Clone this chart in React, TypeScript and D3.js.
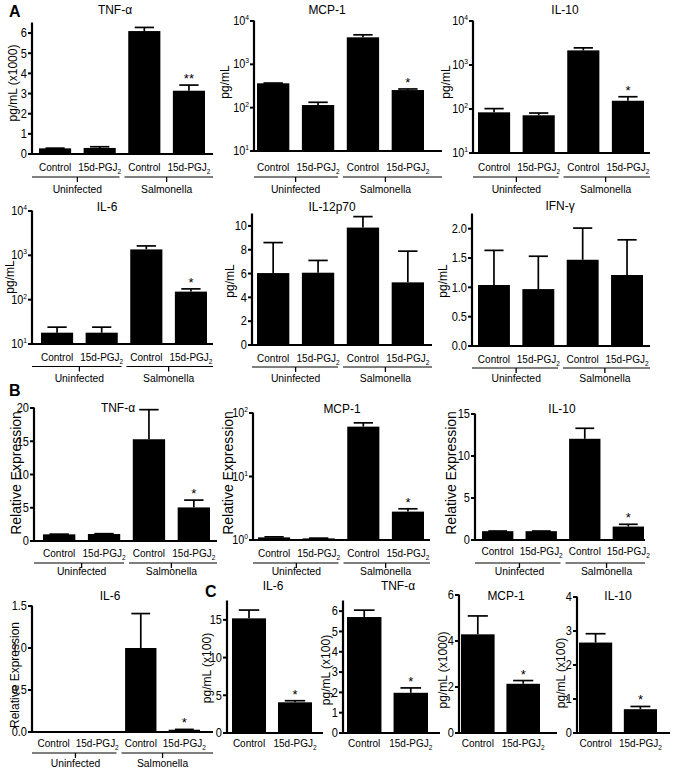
import React from 'react';
import * as d3 from 'd3';

const FONT = '"Liberation Sans", Arial, Helvetica, sans-serif';

// ---------- categories ----------
const categories4 = ['Control', '15d-PGJ2', 'Control', '15d-PGJ2'];
const categories2 = ['Control', '15d-PGJ2'];
const infectionGroups = ['Uninfected', 'Salmonella'];

// ---------- Panel A (cytokine protein, pg/mL) ----------
const aTnfMean = [0.28, 0.3, 6.1, 3.14];
const aTnfSem = [0.01, 0.06, 0.18, 0.28];
const aMcpMean = [365, 115, 4200, 255];
const aMcpSem = [5, 18, 600, 15];
const aIl10Mean = [84, 72, 2150, 154];
const aIl10Sem = [18, 9, 300, 36];
const aIl6Mean = [18, 18, 1360, 152];
const aIl6Sem = [6, 6, 270, 23];
const aIl12Mean = [6.04, 6.07, 9.86, 5.26];
const aIl12Sem = [2.56, 1.03, 0.92, 2.62];
const aIfnMean = [1.04, 0.97, 1.47, 1.21];
const aIfnSem = [0.59, 0.56, 0.54, 0.6];

// ---------- Panel B (relative expression) ----------
const bTnfMean = [1.0, 1.05, 15.3, 5.05];
const bTnfSem = [0.03, 0.05, 4.45, 1.1];
const bMcpMean = [1.1, 1.06, 61, 2.8];
const bMcpSem = [0.02, 0.01, 9, 0.3];
const bIl10Mean = [1.05, 1.05, 12.05, 1.6];
const bIl10Sem = [0.02, 0.02, 1.25, 0.27];
const bIl6Mean = [0.001, 0.001, 1.0, 0.027];
const bIl6Sem = [0, 0, 0.41, 0.004];

// ---------- Panel C ----------
const cIl6Mean = [15.2, 4.07];
const cIl6Sem = [1.1, 0.21];
const cTnfMean = [5.71, 1.98];
const cTnfSem = [0.34, 0.24];
const cMcpMean = [4.29, 2.14];
const cMcpSem = [0.8, 0.14];
const cIl10Mean = [2.66, 0.7];
const cIl10Sem = [0.26, 0.08];

// ---------- significance ----------
const starsA1 = ['', '', '', '**'];
const starsA = ['', '', '', '*'];
const starsNone = ['', '', '', ''];
const starsB = ['', '', '', '*'];
const starsC = ['', '*'];

// ---------- tick values ----------
const ticksTnfA = [0, 1, 2, 3, 4, 5, 6];
const ticksLog4 = [10, 100, 1000, 10000];
const ticksIl12 = [0, 2, 4, 6, 8, 10];
const ticksIfn = [0, 0.5, 1.0, 1.5, 2.0];
const ticksBTnf = [0, 5, 10, 15, 20];
const ticksLog2 = [1, 10, 100];
const ticksBIl10 = [0, 5, 10, 15];
const ticksBIl6 = [0, 0.5, 1.0, 1.5];
const ticksCIl6 = [0, 5, 10, 15];
const ticksCTnf = [0, 1, 2, 3, 4, 5, 6];
const ticksCMcp = [0, 2, 4, 6];
const ticksCIl10 = [0, 1, 2, 3, 4];

function T({ x, y, anchor = 'middle', size = 11, sx = 0.88, rotate = 0, weight = 'normal', children }: any) {
  const tf = `translate(${x},${y})${rotate ? ` rotate(${rotate})` : ''} scale(${sx},1)`;
  return (
    <text transform={tf} textAnchor={anchor} fontSize={size} fontFamily={FONT} fontWeight={weight} fill="#000">
      {children}
    </text>
  );
}

function CatText({ text }: { text: string }) {
  if (text.endsWith('PGJ2')) {
    return (
      <>
        {text.slice(0, -1)}
        <tspan fontSize={7.5} dy={2.5}>2</tspan>
      </>
    );
  }
  return <>{text}</>;
}

function Panel(p: any) {
  const y = p.log
    ? d3.scaleLog().domain(p.domain).range([p.yBase, p.yTop]).clamp(true)
    : d3.scaleLinear().domain(p.domain).range([p.yBase, p.yTop]).clamp(true);
  const n = p.means.length;
  const x = d3
    .scaleBand<number>()
    .domain(d3.range(n))
    .range([p.bs, p.be])
    .paddingInner(p.pad ?? 0.28);
  const bw = x.bandwidth();
  const fmt = p.fmt ?? ((v: number) => String(v));
  const labOff = p.labOff ?? 17;
  const lineOff = p.lineOff ?? 23;
  const grpOff = p.grpOff ?? 39;

  const groupSpans: any[] = [];
  if (n === 4 && p.groups) {
    const mid = ((x(1) as number) + bw + (x(2) as number)) / 2;
    groupSpans.push({ a: p.x0, b: mid - 2.5, c: ((x(0) as number) + (x(1) as number)) / 2 + bw / 2, name: p.groups[0] });
    groupSpans.push({ a: mid + 2.5, b: p.x1, c: ((x(2) as number) + (x(3) as number)) / 2 + bw / 2, name: p.groups[1] });
  }

  return (
    <g>
      {/* bars */}
      {p.means.map((m: number, i: number) => {
        const top = y(m);
        return <rect key={'b' + i} x={x(i)} y={top} width={bw} height={Math.max(0, p.yBase - top)} fill="#000" />;
      })}
      {/* error bars */}
      {p.means.map((m: number, i: number) => {
        const cx = (x(i) as number) + bw / 2;
        const yt = y(m + p.sems[i]);
        const cap = bw * 0.3;
        return (
          <g key={'e' + i} stroke="#000" strokeWidth={1.7}>
            <line x1={cx} x2={cx} y1={y(m)} y2={yt} />
            <line x1={cx - cap} x2={cx + cap} y1={yt} y2={yt} />
          </g>
        );
      })}
      {/* stars */}
      {p.stars.map((s: string, i: number) =>
        s ? (
          <T key={'s' + i} x={(x(i) as number) + bw / 2} y={y(p.means[i] + p.sems[i]) - 2} size={13} sx={1}>
            {s}
          </T>
        ) : null
      )}
      {/* axes */}
      <line x1={p.x0} x2={p.x0} y1={p.yTop - 0.5} y2={p.yBase + 1} stroke="#000" strokeWidth={2.2} />
      <line x1={p.x0 - 1} x2={p.x1} y1={p.yBase} y2={p.yBase} stroke="#000" strokeWidth={2.2} />
      {p.ticks.map((t: number, i: number) => {
        const ty = y(t);
        return (
          <g key={'t' + i}>
            <line x1={p.x0 - 4} x2={p.x0} y1={ty} y2={ty} stroke="#000" strokeWidth={2} />
            {p.log ? (
              <T x={p.x0 - 5} y={ty + 4} anchor="end" size={12} sx={0.9}>
                10<tspan fontSize={7.5} dy={-5}>{Math.round(Math.log10(t))}</tspan>
              </T>
            ) : (
              <T x={p.x0 - 5} y={ty + 4.3} anchor="end" size={12} sx={0.92}>
                {fmt(t)}
              </T>
            )}
          </g>
        );
      })}
      {/* category labels */}
      {p.cats.map((c: string, i: number) => (
        <T key={'c' + i} x={(x(i) as number) + bw / 2} y={p.yBase + labOff} size={11.5} sx={0.87}>
          <CatText text={c} />
        </T>
      ))}
      {/* group lines */}
      {groupSpans.map((g, i) => (
        <g key={'g' + i}>
          <line x1={g.a} x2={g.b} y1={p.yBase + lineOff} y2={p.yBase + lineOff} stroke="#000" strokeWidth={1.1} />
          <line x1={g.c} x2={g.c} y1={p.yBase + lineOff} y2={p.yBase + lineOff + 5} stroke="#000" strokeWidth={1.3} />
          <T x={g.c} y={p.yBase + grpOff} size={11.5} sx={0.9}>
            {g.name}
          </T>
        </g>
      ))}
      {/* title */}
      <T x={p.titleX} y={p.titleY} size={13} sx={0.92}>
        {p.title}
      </T>
      {/* y label */}
      <T x={p.ylX} y={p.ylY} rotate={-90} size={p.ylSize ?? 12} sx={1}>
        {p.yLabel}
      </T>
    </g>
  );
}

const d1 = (v: number) => v.toFixed(1);

export default function App() {
  return (
    <svg width={677} height={771} style={{ position: 'absolute', left: 0, top: 0, background: '#fff' }}>
      <rect width={677} height={771} fill="#fff" />
      <T x={9} y={17} size={16} sx={1} weight="bold" anchor="start">A</T>
      <T x={9} y={396} size={16} sx={1} weight="bold" anchor="start">B</T>
      <T x={205} y={597} size={16} sx={1} weight="bold" anchor="start">C</T>

      {/* ---- A row 1 ---- */}
      <Panel title="TNF-α" titleX={115} titleY={14} means={aTnfMean} sems={aTnfSem} stars={starsA1}
        domain={[0, 6.5]} ticks={ticksTnfA} x0={32} x1={213} yTop={23} yBase={154} bs={39} be={205}
        cats={categories4} groups={infectionGroups} yLabel="pg/mL (x1000)" ylX={17} ylY={83} />
      <Panel title="MCP-1" titleX={327} titleY={14} means={aMcpMean} sems={aMcpSem} stars={starsA} log
        domain={[10, 10000]} ticks={ticksLog4} x0={254} x1={442} yTop={21} yBase={151} bs={257} be={424}
        cats={categories4} groups={infectionGroups} yLabel="pg/mL" ylX={229} ylY={82}
        labOff={20} lineOff={26} grpOff={42} />
      <Panel title="IL-10" titleX={565} titleY={14} means={aIl10Mean} sems={aIl10Sem} stars={starsA} log
        domain={[10, 10000]} ticks={ticksLog4} x0={473} x1={650} yTop={21} yBase={153} bs={478} be={644}
        cats={categories4} groups={infectionGroups} yLabel="pg/mL" ylX={450} ylY={82}
        labOff={18} lineOff={24} grpOff={40} />

      {/* ---- A row 2 ---- */}
      <Panel title="IL-6" titleX={107} titleY={211} means={aIl6Mean} sems={aIl6Sem} stars={starsA} log
        domain={[10, 10000]} ticks={ticksLog4} x0={32} x1={213} yTop={211} yBase={344} bs={41} be={207}
        cats={categories4} groups={infectionGroups} yLabel="pg/mL" ylX={14} ylY={277}
        labOff={17} lineOff={22.5} grpOff={38} />
      <Panel title="IL-12p70" titleX={332} titleY={211} means={aIl12Mean} sems={aIl12Sem} stars={starsNone}
        domain={[0, 11]} ticks={ticksIl12} x0={252} x1={432} yTop={214} yBase={345} bs={257} be={424}
        cats={categories4} groups={infectionGroups} yLabel="pg/mL" ylX={234} ylY={281}
        labOff={17} lineOff={22} grpOff={37} />
      <Panel title="IFN-γ" titleX={560} titleY={210} means={aIfnMean} sems={aIfnSem} stars={starsNone}
        domain={[0, 2.25]} ticks={ticksIfn} fmt={d1} x0={472} x1={650} yTop={214} yBase={346} bs={478} be={643}
        cats={categories4} groups={infectionGroups} yLabel="pg/mL" ylX={447} ylY={281}
        labOff={17} lineOff={22} grpOff={36} />

      {/* ---- B row 1 ---- */}
      <Panel title="TNF-α" titleX={118} titleY={412} means={bTnfMean} sems={bTnfSem} stars={starsB}
        domain={[0, 20]} ticks={ticksBTnf} x0={34} x1={217} yTop={408} yBase={541} bs={43} be={210}
        cats={categories4} groups={infectionGroups} yLabel="Relative Expression" ylX={21} ylY={473} ylSize={14}
        labOff={16} lineOff={22} grpOff={34} />
      <Panel title="MCP-1" titleX={342} titleY={413} means={bMcpMean} sems={bMcpSem} stars={starsB} log
        domain={[1, 100]} ticks={ticksLog2} x0={253} x1={430} yTop={413} yBase={540} bs={258} be={424}
        cats={categories4} groups={infectionGroups} yLabel="Relative Expression" ylX={233} ylY={473} ylSize={14}
        labOff={17} lineOff={23} grpOff={35} />
      <Panel title="IL-10" titleX={562} titleY={413} means={bIl10Mean} sems={bIl10Sem} stars={starsB}
        domain={[0, 15]} ticks={ticksBIl10} x0={475} x1={645} yTop={414} yBase={540} bs={482} be={644}
        cats={categories4} groups={infectionGroups} yLabel="Relative Expression" ylX={456} ylY={473} ylSize={14}
        labOff={15} lineOff={23} grpOff={35} />

      {/* ---- B row 2 ---- */}
      <Panel title="IL-6" titleX={110} titleY={600} means={bIl6Mean} sems={bIl6Sem} stars={starsB}
        domain={[0, 1.5]} ticks={ticksBIl6} fmt={d1} x0={32} x1={213} yTop={606} yBase={732} bs={38} be={200}
        cats={categories4} groups={infectionGroups} yLabel="Relative Expression" ylX={19} ylY={675} ylSize={12}
        labOff={15} lineOff={21} grpOff={35} />

      {/* ---- C ---- */}
      <Panel title="IL-6" titleX={273} titleY={590} means={cIl6Mean} sems={cIl6Sem} stars={starsC} pad={0.26}
        domain={[0, 17.5]} ticks={ticksCIl6} x0={227} x1={323} yTop={601} yBase={733} bs={232} be={312}
        cats={categories2} yLabel="pg/mL (x100)" ylX={211} ylY={668} labOff={14} />
      <Panel title="TNF-α" titleX={398} titleY={590} means={cTnfMean} sems={cTnfSem} stars={starsC} pad={0.26}
        domain={[0, 6.5]} ticks={ticksCTnf} x0={343} x1={440} yTop={601} yBase={733} bs={347} be={428}
        cats={categories2} yLabel="pg/mL (x100)" ylX={330} ylY={670} labOff={14} />
      <Panel title="MCP-1" titleX={506} titleY={600} means={cMcpMean} sems={cMcpSem} stars={starsC} pad={0.26}
        domain={[0, 6]} ticks={ticksCMcp} x0={459} x1={557} yTop={595} yBase={733} bs={461} be={540}
        cats={categories2} yLabel="pg/mL (x1000)" ylX={447} ylY={670} labOff={14} />
      <Panel title="IL-10" titleX={618} titleY={600} means={cIl10Mean} sems={cIl10Sem} stars={starsC} pad={0.26}
        domain={[0, 4]} ticks={ticksCIl10} x0={577} x1={670} yTop={597} yBase={733} bs={579} be={657}
        cats={categories2} yLabel="pg/mL (x100)" ylX={565} ylY={673} labOff={14} />
    </svg>
  );
}
